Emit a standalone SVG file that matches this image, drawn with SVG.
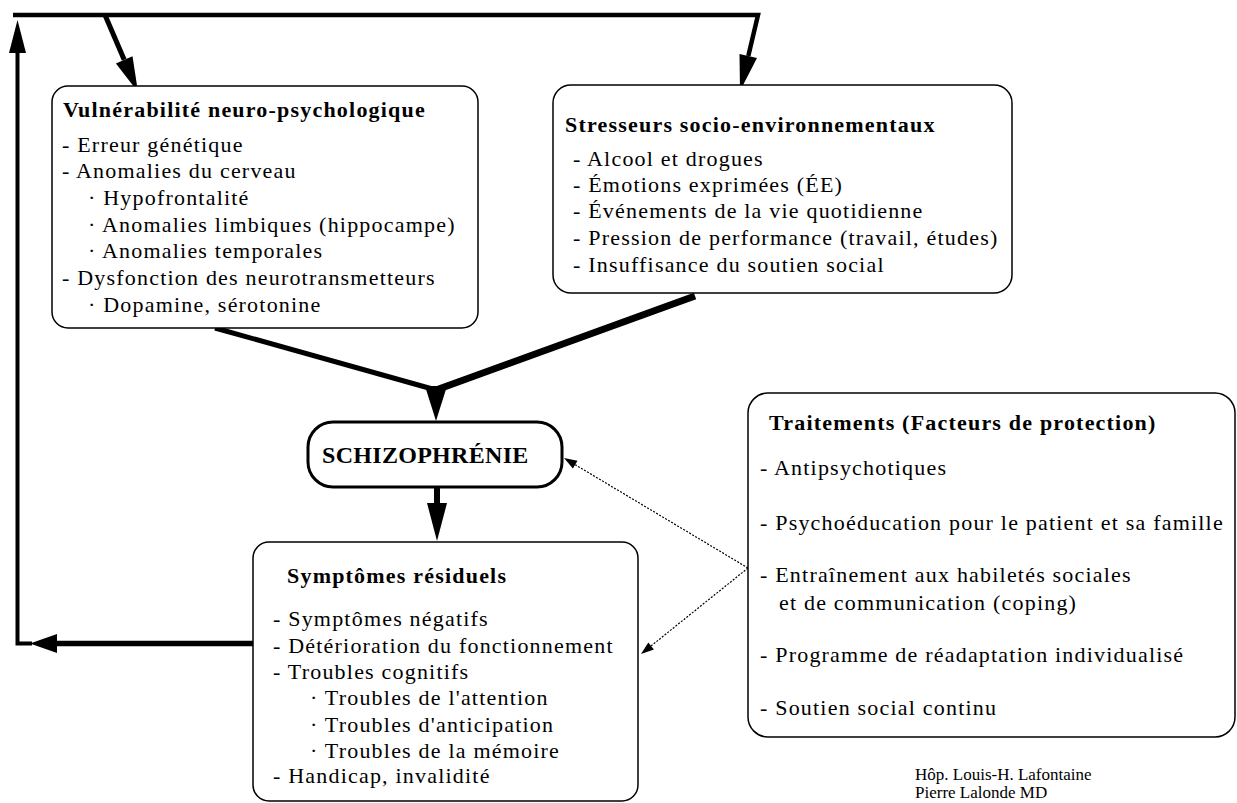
<svg xmlns="http://www.w3.org/2000/svg" width="1237" height="803" viewBox="0 0 1237 803">
<style>
  .box { fill: #fff; stroke: #000; stroke-width: 1.5; }
  .t { font-family: "Liberation Serif", "Times New Roman", serif; font-size: 22px; letter-spacing: 1.2px; fill: #000; }
  .b { font-weight: bold; }
  .thick { fill: none; stroke: #000; stroke-linejoin: miter; stroke-linecap: butt; }
  .head { fill: #000; stroke: none; }
  .thin { fill: none; stroke: #000; stroke-width: 1.2; stroke-dasharray: 2 1.5; }
  .credit { font-family: "Liberation Serif", "Times New Roman", serif; font-size: 17px; fill: #000; }
</style>
<rect width="1237" height="803" fill="#fff"/>

<g id="connectors">
  <path class="thick" stroke-width="4.5" d="M13,15 H758 L748.3,56"/>
  <polygon class="head" points="740,91 739.5,53.9 757,58.1"/>
  <path class="thick" stroke-width="5" d="M105,15 L124.2,59.8"/>
  <polygon class="head" points="138,92 115.9,63.4 132.5,56.3"/>
  <path class="thick" stroke-width="4" d="M17.5,50 V643.5 H32"/>
  <polygon class="head" points="17.5,20 26,53 9,53"/>
  <path class="thick" stroke-width="5.5" d="M55,643.5 H253"/>
  <polygon class="head" points="30,643.5 57,634 57,653"/>
  <path class="thick" stroke-width="5" d="M215,328 L436,390"/>
  <path class="thick" stroke-width="7" d="M695,296 L436,390"/>
  <polygon class="head" points="425,386 447,386 436,421"/>
  <path class="thick" stroke-width="6" d="M437,487 V505"/>
  <polygon class="head" points="427,503 447,503 437,541"/>
  <path class="thin" d="M748,568 L575.2,464.7"/>
  <polygon class="head" points="564,458 577.5,460.8 572.9,468.6"/>
  <path class="thin" d="M748,568 L651.1,645.9"/>
  <polygon class="head" points="641,654 648.3,642.4 653.9,649.4"/>
</g>

<g id="vulnerabilite">
  <rect class="box" x="52" y="86" width="426" height="242" rx="16"/>
  <text class="t b" x="63" y="117">Vulnérabilité neuro-psychologique</text>
  <text class="t" x="62" y="152">- Erreur génétique</text>
  <text class="t" x="62" y="178">- Anomalies du cerveau</text>
  <text class="t" x="88" y="205">· Hypofrontalité</text>
  <text class="t" x="88" y="232">· Anomalies limbiques (hippocampe)</text>
  <text class="t" x="88" y="258">· Anomalies temporales</text>
  <text class="t" x="62" y="285">- Dysfonction des neurotransmetteurs</text>
  <text class="t" x="88" y="312">· Dopamine, sérotonine</text>
</g>

<g id="stresseurs">
  <rect class="box" x="553" y="85" width="459" height="208" rx="18"/>
  <text class="t b" x="565" y="132">Stresseurs socio-environnementaux</text>
  <text class="t" x="573" y="166">- Alcool et drogues</text>
  <text class="t" x="573" y="192">- Émotions exprimées (ÉE)</text>
  <text class="t" x="573" y="218">- Événements de la vie quotidienne</text>
  <text class="t" x="573" y="245">- Pression de performance (travail, études)</text>
  <text class="t" x="573" y="272">- Insuffisance du soutien social</text>
</g>

<g id="schizophrenie">
  <rect x="308" y="422" width="254" height="65" rx="25" fill="#fff" stroke="#000" stroke-width="3"/>
  <text class="t b" x="322" y="463" style="font-size:24px;letter-spacing:0.3px">SCHIZOPHRÉNIE</text>
</g>

<g id="symptomes">
  <rect class="box" x="253" y="542" width="385" height="259" rx="16"/>
  <text class="t b" x="287" y="583">Symptômes résiduels</text>
  <text class="t" x="273" y="626">- Symptômes négatifs</text>
  <text class="t" x="273" y="653">- Détérioration du fonctionnement</text>
  <text class="t" x="273" y="679">- Troubles cognitifs</text>
  <text class="t" x="310" y="705">· Troubles de l'attention</text>
  <text class="t" x="310" y="732">· Troubles d'anticipation</text>
  <text class="t" x="310" y="758">· Troubles de la mémoire</text>
  <text class="t" x="273" y="783">- Handicap, invalidité</text>
</g>

<g id="traitements">
  <rect class="box" x="748" y="393" width="487" height="344" rx="20"/>
  <text class="t b" x="769" y="430">Traitements (Facteurs de protection)</text>
  <text class="t" x="760" y="475">- Antipsychotiques</text>
  <text class="t" x="760" y="530">- Psychoéducation pour le patient et sa famille</text>
  <text class="t" x="760" y="582">- Entraînement aux habiletés sociales</text>
  <text class="t" x="779" y="610">et de communication (coping)</text>
  <text class="t" x="760" y="662">- Programme de réadaptation individualisé</text>
  <text class="t" x="760" y="715">- Soutien social continu</text>
</g>

<g id="credits">
  <text class="credit" x="915" y="780">Hôp. Louis-H. Lafontaine</text>
  <text class="credit" x="915" y="798">Pierre Lalonde MD</text>
</g>
</svg>
